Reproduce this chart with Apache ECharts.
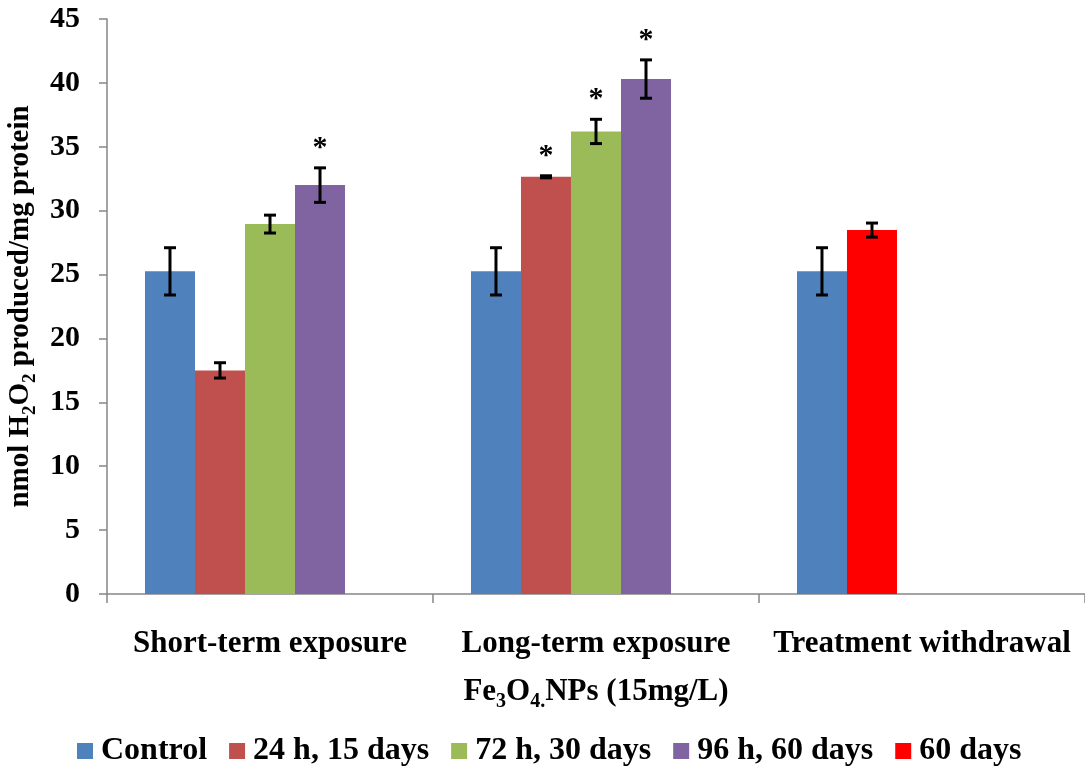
<!DOCTYPE html>
<html>
<head>
<meta charset="utf-8">
<script src="https://cdn.jsdelivr.net/npm/echarts@6/dist/echarts.min.js"></script>
<style>
html,body{margin:0;padding:0;background:#fff;}
#chart{width:1085px;height:769px;}
</style>
</head>
<body>
<div id="chart"></div>
<script>
// ---- data ----
const categories = ['Short-term exposure', 'Long-term exposure', 'Treatment withdrawal'];
const seriesNames = ['Control', '24 h, 15 days', '72 h, 30 days', '96 h, 60 days', '60 days'];
const control    = [25.25, 25.25, 25.25];
const controlErr = [1.85, 1.85, 1.85];
const h24        = [17.5, 32.65, '-'];
const h24Err     = [0.6, 0.08, '-'];
const h72        = [28.95, 36.2, '-'];
const h72Err     = [0.7, 0.95, '-'];
const h96        = [32.0, 40.3, '-'];
const h96Err     = [1.35, 1.5, '-'];
const d60        = ['-', '-', 28.48];
const d60Err     = ['-', '-', 0.55];
const h24Sig     = [false, true, false];
const h72Sig     = [false, true, false];
const h96Sig     = [true, true, false];
const noSig      = [false, false, false];
const yTicks     = [0, 5, 10, 15, 20, 25, 30, 35, 40, 45];

// ---- styling ----
const FONT = '"Liberation Serif", "Times New Roman", serif';
const colors = ['#4F81BD', '#C0504D', '#9BBB59', '#8064A2', '#FF0000'];
const GAP = 0.233;
const NSLOT = 5;

const barSets = [
  {name: seriesNames[0], vals: control, err: controlErr, sig: noSig, slot: 0, color: colors[0], stack: 's0'},
  {name: seriesNames[1], vals: h24, err: h24Err, sig: h24Sig, slot: 1, color: colors[1], stack: 's1'},
  {name: seriesNames[2], vals: h72, err: h72Err, sig: h72Sig, slot: 2, color: colors[2], stack: 's2'},
  {name: seriesNames[3], vals: h96, err: h96Err, sig: h96Sig, slot: 3, color: colors[3], stack: 's3'},
  {name: seriesNames[4], vals: d60, err: d60Err, sig: noSig, slot: 1, color: colors[4], stack: 's1'}
];

const errData = [];
barSets.forEach(b => {
  b.vals.forEach((v, i) => {
    if (v === '-') return;
    errData.push([i, v - b.err[i], v + b.err[i], b.slot, b.sig[i] ? 1 : 0]);
  });
});

function renderErr(params, api) {
  const cat = api.value(0), lo = api.value(1), hi = api.value(2), slot = api.value(3), sig = api.value(4);
  const band = api.size([1, 0])[0];
  const barW = band * (1 - GAP) / NSLOT;
  const pLo = api.coord([cat, lo]);
  const pHi = api.coord([cat, hi]);
  const x = pLo[0] + (slot - (NSLOT - 1) / 2) * barW;
  const cap = 6;
  const st = {stroke: '#000', lineWidth: 3};
  const children = [
    {type: 'line', shape: {x1: x, y1: pLo[1], x2: x, y2: pHi[1]}, style: st},
    {type: 'line', shape: {x1: x - cap, y1: pLo[1], x2: x + cap, y2: pLo[1]}, style: st},
    {type: 'line', shape: {x1: x - cap, y1: pHi[1], x2: x + cap, y2: pHi[1]}, style: st}
  ];
  if (sig) {
    children.push({type: 'text', style: {text: '*', x: x, y: pHi[1] - 5, align: 'center', verticalAlign: 'bottom',
      fontSize: 30, fontWeight: 'bold', fontFamily: FONT, fill: '#000'}});
  }
  return {type: 'group', children: children};
}

const series = barSets.map(b => ({
  name: b.name,
  type: 'bar',
  stack: b.stack,
  data: b.vals,
  itemStyle: {color: b.color},
  barGap: '0%',
  barCategoryGap: (GAP * 100) + '%',
  emphasis: {disabled: true}
}));
// empty placeholder occupying the fifth slot (as in the original chart layout)
series.push({name: 'slot5', type: 'bar', stack: 's4', data: ['-', '-', '-'], barGap: '0%', barCategoryGap: (GAP * 100) + '%'});
series.push({
  type: 'custom', name: 'err', renderItem: renderErr, data: errData,
  encode: {x: 0, y: [1, 2]}, z: 10, silent: true
});

const chart = echarts.init(document.getElementById('chart'), null, {renderer: 'canvas'});
chart.setOption({
  animation: false,
  backgroundColor: '#fff',
  grid: {left: 107, right: 0, top: 19, bottom: 175, containLabel: false, outerBoundsMode: 'none'},
  legend: {
    data: seriesNames.map((n, i) => ({name: n, itemStyle: {color: colors[i]}})),
    top: 730, left: 72,
    icon: 'rect', itemWidth: 16, itemHeight: 16, itemGap: 22,
    textStyle: {fontFamily: FONT, fontWeight: 'bold', fontSize: 32, color: '#000', padding: [0, 0, 0, 3]}
  },
  xAxis: {
    type: 'category',
    data: categories,
    axisLine: {lineStyle: {color: '#868686', width: 1.5}},
    axisTick: {show: true, length: 9, lineStyle: {color: '#868686', width: 1.5}},
    axisLabel: {interval: 0, fontFamily: FONT, fontWeight: 'bold', fontSize: 31, color: '#000', margin: 34},
    name: '{b|Fe}{s|3}{b|O}{s|4.}{b|NPs (15mg/L)}',
    nameLocation: 'middle', nameGap: 78,
    nameTextStyle: {
      rich: {
        b: {fontFamily: FONT, fontWeight: 'bold', fontSize: 31, color: '#000', lineHeight: 40},
        s: {fontFamily: FONT, fontWeight: 'bold', fontSize: 20, color: '#000', lineHeight: 18, verticalAlign: 'bottom'}
      }
    }
  },
  yAxis: {
    type: 'value', min: 0, max: 45, interval: 5,
    axisLine: {show: true, lineStyle: {color: '#868686', width: 1.5}},
    axisTick: {show: true, length: 8, lineStyle: {color: '#868686', width: 1.5}},
    splitLine: {show: false},
    axisLabel: {fontFamily: FONT, fontWeight: 'bold', fontSize: 30, color: '#000', margin: 27,
      formatter: v => yTicks.includes(v) ? String(v) : ''},
    name: '{b|nmol H}{s|2}{b|O}{s|2}{b| produced/mg protein}',
    nameLocation: 'middle', nameRotate: 90, nameGap: 61,
    nameTextStyle: {
      rich: {
        b: {fontFamily: FONT, fontWeight: 'bold', fontSize: 29, color: '#000', lineHeight: 38},
        s: {fontFamily: FONT, fontWeight: 'bold', fontSize: 19, color: '#000', lineHeight: 17, verticalAlign: 'bottom'}
      }
    }
  },
  series: series
});
</script>
</body>
</html>
